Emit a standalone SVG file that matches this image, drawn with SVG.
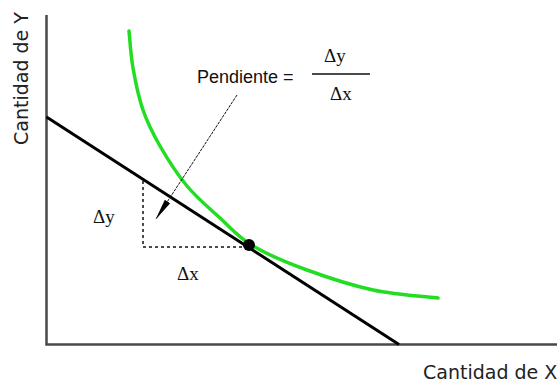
<svg xmlns="http://www.w3.org/2000/svg" width="560" height="385" viewBox="0 0 560 385">
<style>
.axis{stroke:#4a4a4a;stroke-width:2.5;fill:none}
.lbl{font-family:"DejaVu Sans",Verdana,sans-serif;font-size:19px;fill:#222}
.sym{font-family:"Liberation Serif","Times New Roman",serif;font-size:19px;fill:#111}
.txt{font-family:"Liberation Sans",Arial,sans-serif;font-size:18px;fill:#111}
.dash{stroke:#111;stroke-width:1.5;stroke-dasharray:3,3;fill:none}
</style>
<defs>
<marker id="ah" markerUnits="userSpaceOnUse" markerWidth="22" markerHeight="10" viewBox="0 0 22 10" refX="21" refY="5" orient="auto">
<path d="M0,1.8 L22,5 L0,8.2 Z" fill="#000"/>
</marker>
</defs>
<rect width="560" height="385" fill="#fff"/>
<g id="axes">
<path class="axis" d="M46.5,15 V344.5 H557"/>
<text class="lbl" transform="translate(28,78.5) rotate(-90)" text-anchor="middle">Cantidad de Y</text>
<text class="lbl" x="423" y="379">Cantidad de X</text>
</g>
<g id="curve">
<path d="M129,31 C129.7,37.2 130.7,54.8 133,68 C135.3,81.2 138.5,97 143,110 C147.5,123 152.7,133.3 160,146 C167.3,158.7 177,174 187,186 C197,198 209,208 220,218 C231,228 238.5,237.3 253,246 C267.5,254.7 287,262.7 307,270 C327,277.3 351.2,285.3 373,290 C394.8,294.7 427.2,296.7 438,298" fill="none" stroke="#22dd22" stroke-width="3.5" stroke-linecap="round"/>
</g>
<g id="line">
<path d="M46.5,117 L399,344.5" stroke="#000" stroke-width="3" fill="none"/>
</g>
<g id="connectors">
<path class="dash" d="M143,181 V247 H249"/>
<path d="M237,95 L156,219" stroke="#111" stroke-width="1" stroke-dasharray="3,1" fill="none" marker-end="url(#ah)"/>
</g>
<g id="point">
<circle cx="249" cy="245" r="6" fill="#000"/>
</g>
<g id="slope-label">
<text class="txt" x="197" y="83">Pendiente =</text>
<text class="sym" x="324" y="62">Δy</text>
<path d="M312,74 H370" stroke="#111" stroke-width="1.5"/>
<text class="sym" x="330" y="100">Δx</text>
</g>
<g id="dy-label"><text class="sym" x="93" y="223">Δy</text></g>
<g id="dx-label"><text class="sym" x="177" y="280">Δx</text></g>
</svg>
